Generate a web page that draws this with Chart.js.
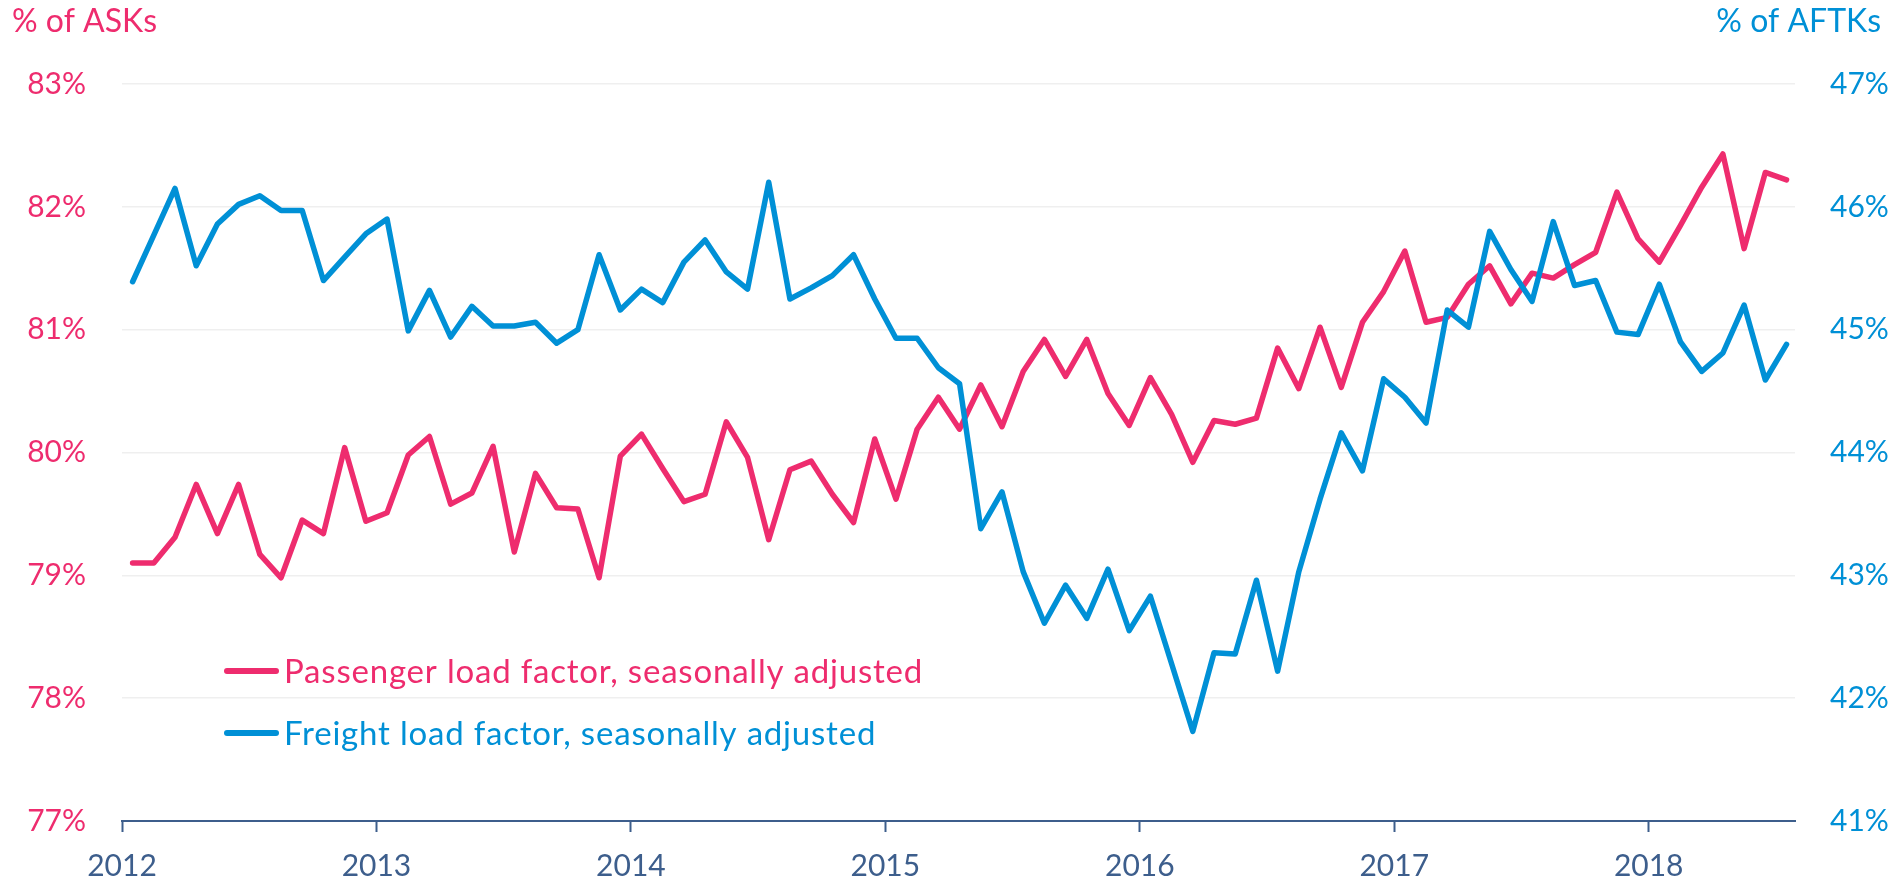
<!DOCTYPE html>
<html>
<head>
<meta charset="utf-8">
<title>Passenger and freight load factors</title>
<script src="https://cdn.jsdelivr.net/npm/chart.js@4.4.1/dist/chart.umd.min.js"></script>
<style>
  body { margin: 0; background: #fff; }
</style>
</head>
<body>
<canvas id="chart" width="1897" height="887"></canvas>
<script>
// monthly observations, Jan 2012 - Jul 2018
const months = [
  '2012-01','2012-02','2012-03','2012-04','2012-05','2012-06','2012-07','2012-08','2012-09','2012-10','2012-11','2012-12',
  '2013-01','2013-02','2013-03','2013-04','2013-05','2013-06','2013-07','2013-08','2013-09','2013-10','2013-11','2013-12',
  '2014-01','2014-02','2014-03','2014-04','2014-05','2014-06','2014-07','2014-08','2014-09','2014-10','2014-11','2014-12',
  '2015-01','2015-02','2015-03','2015-04','2015-05','2015-06','2015-07','2015-08','2015-09','2015-10','2015-11','2015-12',
  '2016-01','2016-02','2016-03','2016-04','2016-05','2016-06','2016-07','2016-08','2016-09','2016-10','2016-11','2016-12',
  '2017-01','2017-02','2017-03','2017-04','2017-05','2017-06','2017-07','2017-08','2017-09','2017-10','2017-11','2017-12',
  '2018-01','2018-02','2018-03','2018-04','2018-05','2018-06','2018-07'
];

// % of ASKs (left axis)
const passenger = [
  79.10, 79.10, 79.31, 79.74, 79.34, 79.74, 79.17, 78.98, 79.45, 79.34, 80.04, 79.44,
  79.51, 79.98, 80.13, 79.58, 79.67, 80.05, 79.19, 79.83, 79.55, 79.54, 78.98, 79.97,
  80.15, 79.87, 79.60, 79.66, 80.25, 79.96, 79.29, 79.86, 79.93, 79.66, 79.43, 80.11,
  79.62, 80.19, 80.45, 80.19, 80.55, 80.21, 80.66, 80.92, 80.62, 80.92, 80.48, 80.22,
  80.61, 80.31, 79.92, 80.26, 80.23, 80.28, 80.85, 80.52, 81.02, 80.53, 81.06, 81.31,
  81.64, 81.06, 81.10, 81.37, 81.52, 81.21, 81.46, 81.42, 81.53, 81.63, 82.12, 81.74,
  81.55, 81.85, 82.16, 82.43, 81.66, 82.28, 82.22
];

// % of AFTKs (right axis)
const freight = [
  45.39, 45.77, 46.15, 45.52, 45.86, 46.02, 46.09, 45.97, 45.97, 45.40, 45.59, 45.78,
  45.90, 44.99, 45.32, 44.94, 45.19, 45.03, 45.03, 45.06, 44.89, 45.00, 45.61, 45.16,
  45.33, 45.22, 45.55, 45.73, 45.47, 45.33, 46.20, 45.25, 45.34, 45.44, 45.61, 45.25,
  44.93, 44.93, 44.69, 44.56, 43.38, 43.68, 43.03, 42.61, 42.92, 42.65, 43.05, 42.55,
  42.83, 42.28, 41.73, 42.37, 42.36, 42.96, 42.22, 43.03, 43.62, 44.16, 43.85, 44.60,
  44.45, 44.24, 45.16, 45.02, 45.80, 45.49, 45.23, 45.88, 45.36, 45.40, 44.98, 44.96,
  45.37, 44.90, 44.66, 44.81, 45.20, 44.59, 44.88
];

const leftTitle = '% of ASKs';
const rightTitle = '% of AFTKs';
const seriesNames = ['Passenger load factor, seasonally adjusted', 'Freight load factor, seasonally adjusted'];

const PINK = '#EE2C6E';
const BLUE = '#0090D6';
const SLATE = '#3D5E8C';
const FONT = { family: 'Lato', size: 30 };

// month string -> decimal year at mid-month
function toX(m) {
  const p = m.split('-');
  return +p[0] + (+p[1] - 0.5) / 12;
}
function points(vals) {
  return vals.map((v, i) => ({ x: toX(months[i]), y: v }));
}

const extras = {
  id: 'extras',
  afterDraw(chart) {
    const c = chart.ctx;
    c.save();
    c.font = '32px Lato';
    c.textBaseline = 'alphabetic';
    c.fillStyle = PINK;
    c.textAlign = 'left';
    c.fillText(leftTitle, 12, 32);
    c.fillStyle = BLUE;
    c.textAlign = 'right';
    c.fillText(rightTitle, 1881, 32);

    // legend inside the plot
    c.font = '33px Lato';
    if ('letterSpacing' in c) c.letterSpacing = '0.8px';
    chart.data.datasets.forEach((ds, k) => {
      const y = 671 + k * 62;
      c.strokeStyle = ds.borderColor;
      c.lineWidth = 6;
      c.lineCap = 'round';
      c.beginPath();
      c.moveTo(227, y);
      c.lineTo(276, y);
      c.stroke();
      c.fillStyle = ds.borderColor;
      c.textAlign = 'left';
      c.textBaseline = 'middle';
      c.fillText(ds.label, 284, y + 1);
    });
    c.restore();
  }
};

new Chart(document.getElementById('chart'), {
  type: 'line',
  data: {
    datasets: [{
      label: seriesNames[0],
      data: points(passenger),
      yAxisID: 'y',
      borderColor: PINK,
      borderWidth: 5.5,
      pointRadius: 0,
      borderCapStyle: 'round',
      borderJoinStyle: 'round',
      order: 1
    }, {
      label: seriesNames[1],
      data: points(freight),
      yAxisID: 'y1',
      borderColor: BLUE,
      borderWidth: 5.5,
      pointRadius: 0,
      borderCapStyle: 'round',
      borderJoinStyle: 'round',
      order: 0
    }]
  },
  options: {
    responsive: false,
    animation: false,
    devicePixelRatio: 1,
    layout: { padding: { top: 84, left: 0, right: 0, bottom: 0 } },
    plugins: {
      legend: { display: false },
      tooltip: { enabled: false }
    },
    scales: {
      x: {
        type: 'linear',
        min: 2012,
        max: 2012 + 78.9 / 12,
        afterFit: s => { s.height = 66; },
        grid: { drawOnChartArea: false, drawTicks: true, tickLength: 11, tickColor: SLATE, tickWidth: 2 },
        border: { display: true, color: SLATE, width: 2 },
        ticks: {
          stepSize: 1, includeBounds: false, autoSkip: false, maxRotation: 0,
          color: SLATE, font: FONT, padding: 16,
          callback: v => String(v)
        }
      },
      y: {
        position: 'left',
        min: 77,
        max: 83,
        afterFit: s => { s.width = 122; },
        grid: { color: '#EFEFEF', lineWidth: 1.5, drawTicks: false },
        border: { display: false },
        ticks: { stepSize: 1, color: PINK, font: FONT, padding: 36, callback: v => v + '%' }
      },
      y1: {
        position: 'right',
        min: 41,
        max: 47,
        afterFit: s => { s.width = 102; },
        grid: { display: false, drawTicks: false },
        border: { display: false },
        ticks: { stepSize: 1, color: BLUE, font: FONT, padding: 35, callback: v => v + '%' }
      }
    }
  },
  plugins: [extras]
});
</script>
</body>
</html>
